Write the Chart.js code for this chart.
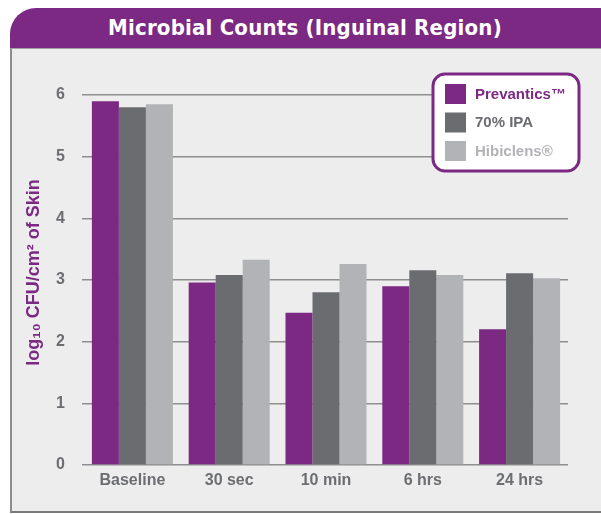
<!DOCTYPE html>
<html>
<head>
<meta charset="utf-8">
<script src="https://cdn.jsdelivr.net/npm/chart.js@4.4.1/dist/chart.umd.min.js"></script>
<style>
  html, body { margin: 0; padding: 0; background: #fff; }
  body { width: 601px; height: 514px; position: relative; overflow: hidden; }
  #titlebar {
    position: absolute; left: 10px; top: 8px; width: 600px; height: 40px;
    background: #7b2983; border-top-left-radius: 26px;
    color: #fff; font: bold 22px "Liberation Sans Narrow", "DejaVu Sans Condensed", "Roboto", sans-serif;
    font-stretch: condensed; text-align: center; line-height: 40px; letter-spacing: 0.2px;
    padding-right: 10px; box-sizing: border-box;
  }
  #panel {
    position: absolute; left: 10px; top: 48px; width: 600px; height: 465px;
    background: #ededed; border-top: 1px solid #a0a0a0; border-left: 2px solid #8c8c8c;
    border-bottom: 2px solid #7a7a7a; box-sizing: border-box;
  }
  #wrap { position: absolute; left: 0; top: 0; width: 601px; height: 514px; }
</style>
</head>
<body>
<div id="titlebar">Microbial Counts (Inguinal Region)</div>
<div id="panel"></div>
<div id="wrap"><canvas id="chart" width="601" height="514"></canvas></div>
<script>
const categories = ["Baseline", "30 sec", "10 min", "6 hrs", "24 hrs"];
const prevantics = [5.90, 2.96, 2.47, 2.90, 2.20];
const ipa70 = [5.80, 3.08, 2.80, 3.16, 3.11];
const hibiclens = [5.85, 3.33, 3.26, 3.08, 3.03];
const seriesNames = ["Prevantics™", "70% IPA", "Hibiclens®"];
const yTicks = [0, 1, 2, 3, 4, 5, 6];

const Config = {
  colors: {
    purple: "#7b2983",
    dark: "#6b6c70",
    light: "#b2b3b6",
    grid: "#8e8e90",
    text: "#6d6e71",
  },
  font: `"Liberation Sans", "Arial", sans-serif`,
};

// legend box drawn in the top-right of the plot
const boxLegend = {
  id: "boxLegend",
  afterDraw(chart) {
    const c = chart.ctx;
    const area = chart.chartArea;
    const x = area.right + 11 - 146;
    const y = area.top - 21;
    const w = 146, h = 97, r = 12;
    c.save();
    c.beginPath();
    c.roundRect(x, y, w, h, r);
    c.fillStyle = "#ffffff";
    c.fill();
    c.lineWidth = 3;
    c.strokeStyle = Config.colors.purple;
    c.stroke();
    c.font = `bold 15px ${Config.font}`;
    c.textBaseline = "middle";
    chart.data.datasets.forEach((ds, i) => {
      const sy = y + 10 + i * 28.5;
      c.fillStyle = ds.backgroundColor;
      c.fillRect(x + 12, sy, 21, 20);
      c.fillText(ds.label, x + 42, sy + 10.5);
    });
    c.restore();
  },
};

new Chart(document.getElementById("chart"), {
  type: "bar",
  data: {
    labels: categories,
    datasets: [
      { label: seriesNames[0], data: prevantics, backgroundColor: Config.colors.purple },
      { label: seriesNames[1], data: ipa70, backgroundColor: Config.colors.dark },
      { label: seriesNames[2], data: hibiclens, backgroundColor: Config.colors.light },
    ],
  },
  options: {
    responsive: false,
    animation: false,
    devicePixelRatio: 1,
    layout: { padding: { top: 95, right: 33, bottom: 0, left: 0 } },
    datasets: { bar: { categoryPercentage: 0.837, barPercentage: 1.0 } },
    scales: {
      x: {
        grid: { display: false, drawTicks: false },
        border: { display: false },
        ticks: {
          color: Config.colors.text,
          padding: 6,
          font: { size: 16, weight: "bold", family: Config.font },
        },
        afterFit: (scale) => { scale.height = 49; },
      },
      y: {
        min: 0,
        max: 6,
        afterBuildTicks: (scale) => { scale.ticks = yTicks.map((v) => ({ value: v })); },
        grid: { color: Config.colors.grid, lineWidth: 1.5, drawTicks: true, tickLength: 2 },
        border: { display: false },
        ticks: {
          color: Config.colors.text,
          padding: 17,
          font: { size: 16, weight: "bold", family: Config.font },
        },
        title: {
          display: true,
          // leading spaces nudge the rotated title a little upward
          text: "   log₁₀ CFU/cm² of Skin",
          color: Config.colors.purple,
          padding: { top: 23, bottom: 0 },
          font: { size: 18, weight: "bold", family: Config.font },
        },
        afterFit: (scale) => { scale.width = 84; },
      },
    },
    plugins: {
      legend: { display: false },
      tooltip: { enabled: false },
    },
  },
  plugins: [boxLegend],
});
</script>
</body>
</html>
